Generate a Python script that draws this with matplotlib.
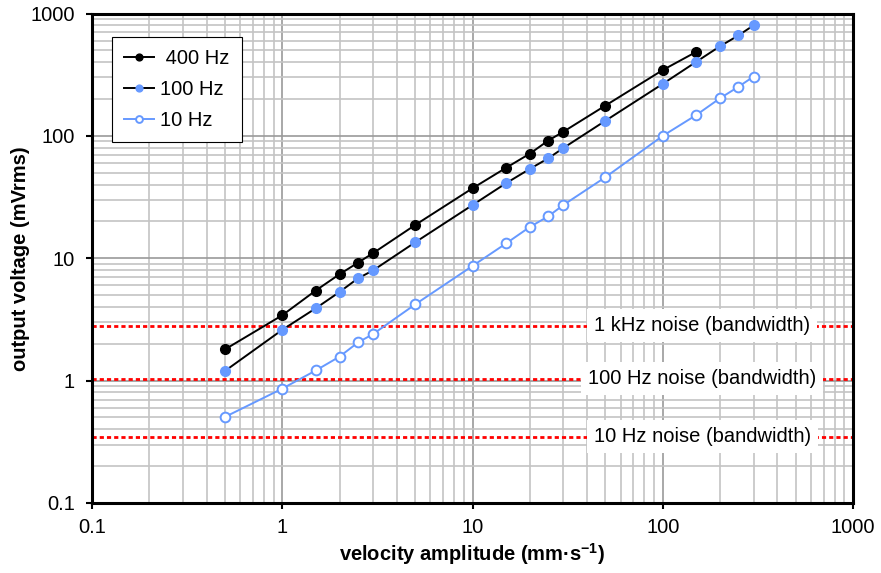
import matplotlib
matplotlib.use("Agg")
import matplotlib.pyplot as plt
from matplotlib.ticker import LogLocator, NullFormatter, FixedLocator, FixedFormatter

plt.rcParams['font.family'] = ['Liberation Sans', 'DejaVu Sans']

# velocity amplitude (mm/s)
vel_400 = [0.5, 1, 1.5, 2, 2.5, 3, 5, 10, 15, 20, 25, 30, 50, 100, 150]
out_400 = [1.8, 3.42, 5.45, 7.4, 9.2, 11.0, 18.7, 37.3, 54.8, 71.5, 91.5, 108, 177, 345, 486]

vel_100 = [0.5, 1, 1.5, 2, 2.5, 3, 5, 10, 15, 20, 25, 30, 50, 100, 150, 200, 250, 300]
out_100 = [1.2, 2.6, 3.9, 5.3, 6.85, 7.95, 13.5, 27.2, 41, 53.7, 65.5, 79.5, 133, 266, 403, 540, 662, 800]

vel_10 = [0.5, 1, 1.5, 2, 2.5, 3, 5, 10, 15, 20, 25, 30, 50, 100, 150, 200, 250, 300]
out_10 = [0.505, 0.86, 1.21, 1.57, 2.05, 2.4, 4.2, 8.65, 13.2, 18.0, 22.0, 27.2, 46, 100, 148, 203, 252, 305]

noise_levels = [2.82, 1.04, 0.348]
noise_labels = ["1 kHz noise (bandwidth)", "100 Hz noise (bandwidth)", "10 Hz noise (bandwidth)"]

tick_vals = [0.1, 1, 10, 100, 1000]
tick_text = ["0.1", "1", "10", "100", "1000"]

FS = 14.5

fig = plt.figure(figsize=(8.81, 5.73), dpi=100)
ax = fig.add_axes([92/881, 1-503/573, (853-92)/881, (503-13.5)/573])
ax.set_xscale('log')
ax.set_yscale('log')
ax.set_xlim(0.1, 1000)
ax.set_ylim(0.1, 1000)

# grid
ax.grid(which='minor', color='#c4c4c4', linewidth=1.2, zorder=0)
ax.grid(which='major', color='#9a9a9a', linewidth=1.2, zorder=0)
ax.set_axisbelow(True)

for s in ax.spines.values():
    s.set_linewidth(2.2)
    s.set_color('black')

ax.xaxis.set_major_locator(FixedLocator(tick_vals))
ax.xaxis.set_major_formatter(FixedFormatter(tick_text))
ax.yaxis.set_major_locator(FixedLocator(tick_vals))
ax.yaxis.set_major_formatter(FixedFormatter(tick_text))
ax.xaxis.set_minor_locator(LogLocator(base=10, subs=range(2, 10), numticks=20))
ax.yaxis.set_minor_locator(LogLocator(base=10, subs=range(2, 10), numticks=20))
ax.xaxis.set_minor_formatter(NullFormatter())
ax.yaxis.set_minor_formatter(NullFormatter())
ax.tick_params(which='major', direction='out', length=4.5, width=1.5, labelsize=FS)
ax.tick_params(axis='y', which='major', pad=8)
ax.tick_params(axis='x', which='major', pad=6)
ax.tick_params(which='minor', length=0)

# noise floors
for lvl, lab in zip(noise_levels, noise_labels):
    ax.axhline(lvl, color='#ff0000', linestyle=(0, (1.5, 1.1)), linewidth=2, zorder=2)
    ax.text(0.802, lvl, lab, transform=ax.get_yaxis_transform(), ha='center', va='center',
            fontsize=FS, zorder=3,
            bbox=dict(facecolor='white', edgecolor='none', boxstyle='square,pad=0.35'))

blue = '#6699ff'
ax.plot(vel_400, out_400, color='black', linewidth=1.4, marker='o', markersize=7,
        markerfacecolor='black', markeredgecolor='black', label=' 400 Hz', zorder=4)
ax.plot(vel_100, out_100, color='black', linewidth=1.4, marker='o', markersize=7,
        markerfacecolor=blue, markeredgecolor=blue, label='100 Hz', zorder=4)
ax.plot(vel_10, out_10, color=blue, linewidth=1.4, marker='o', markersize=7,
        markerfacecolor='white', markeredgecolor=blue, markeredgewidth=1.4, label='10 Hz', zorder=4)

leg = ax.legend(loc='upper left', bbox_to_anchor=(0.0263, 0.952), fontsize=FS, frameon=True,
                fancybox=False, edgecolor='black', framealpha=1, handlelength=1.5,
                handletextpad=0.3, borderpad=0.6, labelspacing=0.6, markerscale=0.7,
                borderaxespad=0)
leg.get_frame().set_linewidth(0.8)

ax.set_xlabel('velocity amplitude (mm·s$^{\\mathregular{-1}}$)', fontsize=FS, fontweight='bold', labelpad=3)
ax.set_ylabel('output voltage (mVrms)', fontsize=FS, fontweight='bold')
ax.yaxis.set_label_coords(-0.081, 0.5)

fig.savefig('out.png', dpi=100)
